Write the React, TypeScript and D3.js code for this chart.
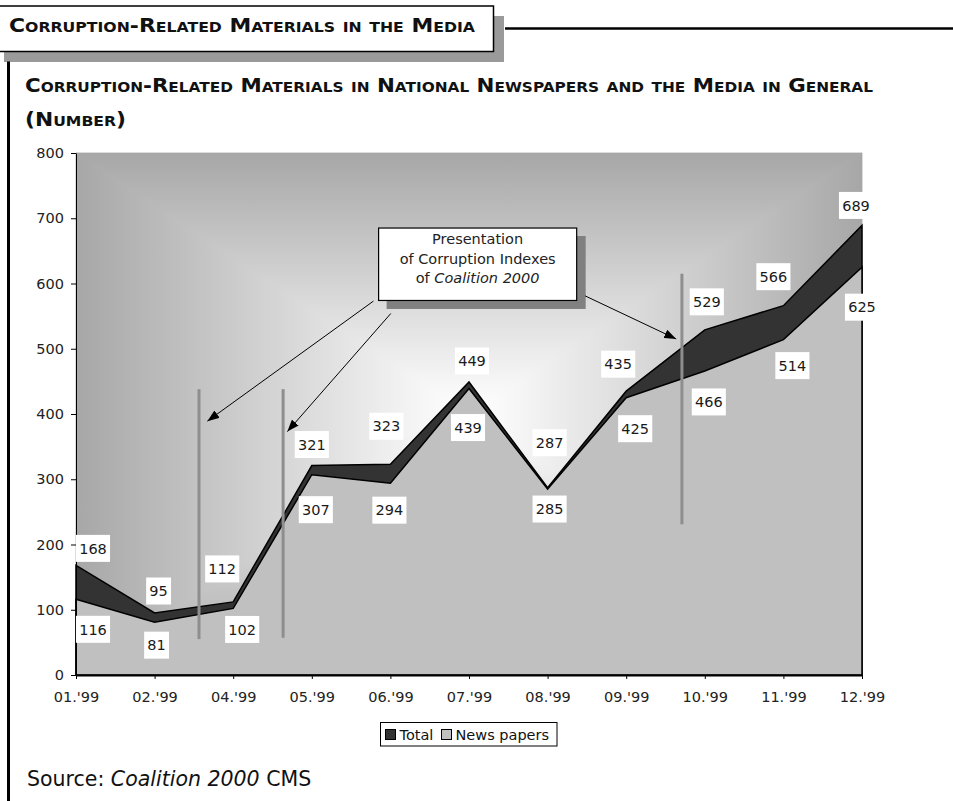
import React, { useEffect, useRef } from 'react';
import * as d3 from 'd3';

// ---------- data ----------
const months = ["01.'99", "02.'99", "04.'99", "05.'99", "06.'99", "07.'99", "08.'99", "09.'99", "10.'99", "11.'99", "12.'99"];
const totalValues = [168, 95, 112, 321, 323, 449, 287, 435, 529, 566, 689];
const newsValues = [116, 81, 102, 307, 294, 439, 285, 425, 466, 514, 625];
const yTicks = [0, 100, 200, 300, 400, 500, 600, 700, 800];
const seriesNames = ['Total', 'News papers'];

// label offsets (pixels) relative to the data point
const totalLabelOffsets = [[17, -17], [4, -22], [-11, -33], [0, -21], [-4, -38], [3, -21], [2, -45], [-8, -27], [2, -28], [-10, -29], [-6, -20]];
const newsLabelOffsets = [[17, 30], [2, 23], [9, 21], [4, 35], [-1, 27], [-1, 39], [2, 20], [9, 31], [4, 31], [9, 26], [0, 40]];

// annotation geometry in data space: [category index (fractional), value]
const markerBars = [
  { i: 1.565, v0: 55, v1: 438 },
  { i: 2.635, v0: 57, v1: 438 },
  { i: 7.709, v0: 231, v1: 615 },
];
const noteBox = { i0: 3.85, i1: 6.37, v0: 574, v1: 685 };
const noteLines = ['Presentation', 'of Corruption Indexes', 'of '];
const arrows = [
  { from: [3.784, 573], to: [1.671, 389] },
  { from: [4.005, 554], to: [2.689, 373] },
  { from: [6.478, 581], to: [7.636, 515] },
];

const FONT = "'DejaVu Sans', 'Open Sans', sans-serif";

function capsRuns(s: string, big: number, small: number) {
  const out: { t: string; size: number }[] = [];
  for (const ch of s) {
    const lower = ch !== ch.toUpperCase();
    const size = lower ? small : big;
    const t = ch.toUpperCase();
    const last = out[out.length - 1];
    if (last && last.size === size) last.t += t;
    else out.push({ t, size });
  }
  return out;
}

export default function App() {
  const ref = useRef<SVGSVGElement>(null);

  useEffect(() => {
    const svg = d3.select(ref.current);
    svg.selectAll('*').remove();

    const W = 953, H = 801;
    const left = 76, right = 862, top = 153, bottom = 675;

    const x = d3.scalePoint<string>().domain(months).range([left, right]).padding(0);
    const xi = d3.scaleLinear().domain([0, months.length - 1]).range([left, right]);
    const y = d3.scaleLinear().domain([0, 800]).range([bottom, top]);

    const defs = svg.append('defs');
    const cx = (left + right) / 2, cy = (top + bottom) / 2;
    const mkGrad = (id: string, x2: number, y2: number) => {
      const g = defs.append('linearGradient').attr('id', id)
        .attr('gradientUnits', 'userSpaceOnUse')
        .attr('x1', cx).attr('y1', cy).attr('x2', x2).attr('y2', y2);
      g.append('stop').attr('offset', 0).attr('stop-color', '#ffffff');
      g.append('stop').attr('offset', 0.12).attr('stop-color', '#f6f6f6');
      g.append('stop').attr('offset', 1).attr('stop-color', '#a7a7a7');
    };
    mkGrad('gTop', cx, top);
    mkGrad('gBot', cx, bottom);
    mkGrad('gLeft', left, cy);
    mkGrad('gRight', right, cy);

    defs.append('marker').attr('id', 'arrowHead')
      .attr('markerUnits', 'userSpaceOnUse')
      .attr('markerWidth', 12).attr('markerHeight', 9)
      .attr('refX', 12).attr('refY', 4.5).attr('orient', 'auto')
      .append('path').attr('d', 'M0,0 L12,4.5 L0,9 Z').attr('fill', '#000');

    // ---------- header ----------
    svg.append('rect').attr('x', 4).attr('y', 16).attr('width', 500).attr('height', 46).attr('fill', '#9a9a9a');
    svg.append('rect').attr('x', -2).attr('y', 6).attr('width', 495.5).attr('height', 45.5)
      .attr('fill', '#fff').attr('stroke', '#000').attr('stroke-width', 1.5);
    svg.append('line').attr('x1', 505).attr('x2', W).attr('y1', 28.5).attr('y2', 28.5)
      .attr('stroke', '#000').attr('stroke-width', 2.5);
    svg.append('line').attr('x1', 8.5).attr('x2', 8.5).attr('y1', 61.5).attr('y2', H)
      .attr('stroke', '#000').attr('stroke-width', 3);

    const capsText = (txt: string, xx: number, yy: number, big: number, small: number, len?: number) => {
      const t = svg.append('text').attr('x', xx).attr('y', yy)
        .attr('font-family', FONT).attr('font-weight', 700).attr('fill', '#111');
      if (len) t.attr('textLength', len).attr('lengthAdjust', 'spacingAndGlyphs');
      t.selectAll('tspan').data(capsRuns(txt, big, small)).join('tspan')
        .attr('font-size', d => d.size).text(d => d.t);
    };
    capsText('Corruption-Related Materials in the Media', 9, 32, 19.5, 14, 466);
    capsText('Corruption-Related Materials in National Newspapers and the Media in General', 25, 92, 19.5, 14, 848);
    capsText('(Number)', 25, 126, 19.5, 14, 101);

    // ---------- plot background (rectangular "from center" gradient) ----------
    const bg = svg.append('g');
    bg.append('rect').attr('x', left).attr('y', top).attr('width', right - left).attr('height', bottom - top).attr('fill', '#c8c8c8');
    const tri = (pts: number[][], id: string) => bg.append('path')
      .attr('d', 'M' + pts.map(p => p.join(',')).join('L') + 'Z')
      .attr('fill', `url(#${id})`).attr('stroke', `url(#${id})`).attr('stroke-width', 0.8);
    tri([[left, top], [right, top], [cx, cy]], 'gTop');
    tri([[left, bottom], [right, bottom], [cx, cy]], 'gBot');
    tri([[left, top], [left, bottom], [cx, cy]], 'gLeft');
    tri([[right, top], [right, bottom], [cx, cy]], 'gRight');

    // ---------- areas ----------
    const area = d3.area<number>()
      .x((_, i) => x(months[i]) as number)
      .y0(y(0))
      .y1(d => y(d));
    svg.append('path').datum(totalValues).attr('d', area)
      .attr('fill', '#333333').attr('stroke', '#000').attr('stroke-width', 1.5).attr('stroke-linejoin', 'miter');
    svg.append('path').datum(newsValues).attr('d', area)
      .attr('fill', '#c0c0c0').attr('stroke', '#000').attr('stroke-width', 1.5).attr('stroke-linejoin', 'miter');

    // ---------- axes ----------
    const yAxis = svg.append('g').attr('transform', `translate(${left},0)`)
      .call(d3.axisLeft(y).tickValues(yTicks).tickSize(5).tickSizeOuter(0).tickPadding(7));
    yAxis.select('.domain').attr('stroke', '#000').attr('stroke-width', 1);
    yAxis.selectAll('.tick line').attr('stroke', '#000');
    yAxis.selectAll('.tick text').attr('font-family', FONT).attr('font-size', 14.5).attr('fill', '#222');

    const xAxis = svg.append('g').attr('transform', `translate(0,${bottom})`)
      .call(d3.axisBottom(x).tickSize(4).tickSizeOuter(0).tickPadding(13));
    xAxis.select('.domain').attr('stroke', '#000').attr('stroke-width', 2);
    xAxis.selectAll('.tick line').attr('stroke', '#000');
    xAxis.selectAll('.tick text').attr('font-family', FONT).attr('font-size', 14.5).attr('fill', '#222');

    // ---------- marker bars ----------
    svg.selectAll('line.mbar').data(markerBars).join('line').attr('class', 'mbar')
      .attr('x1', d => xi(d.i)).attr('x2', d => xi(d.i))
      .attr('y1', d => y(d.v0)).attr('y2', d => y(d.v1))
      .attr('stroke', '#8e8e8e').attr('stroke-width', 3);

    // ---------- data labels ----------
    const labelFont = 14.5;
    const drawLabels = (vals: number[], offs: number[][]) => {
      vals.forEach((v, i) => {
        const px = (x(months[i]) as number) + offs[i][0];
        const py = y(v) + offs[i][1];
        const txt = String(v);
        const w = txt.length * 9.2 + 6.5;
        const h = 27;
        svg.append('rect').attr('x', px - w / 2).attr('y', py - h / 2).attr('width', w).attr('height', h).attr('fill', '#fff');
        svg.append('text').attr('x', px).attr('y', py).attr('dy', '0.36em')
          .attr('text-anchor', 'middle').attr('font-family', FONT).attr('font-size', labelFont)
          .attr('fill', '#1a1a1a').text(txt);
      });
    };
    drawLabels(totalValues, totalLabelOffsets);
    drawLabels(newsValues, newsLabelOffsets);

    // ---------- annotation ----------
    const bx0 = xi(noteBox.i0), bx1 = xi(noteBox.i1), by0 = y(noteBox.v1), by1 = y(noteBox.v0);
    svg.append('rect').attr('x', bx0 + 8).attr('y', by0 + 8).attr('width', bx1 - bx0 + 1).attr('height', by1 - by0 + 0.5).attr('fill', '#808080');
    svg.append('rect').attr('x', bx0).attr('y', by0).attr('width', bx1 - bx0).attr('height', by1 - by0)
      .attr('fill', '#fff').attr('stroke', '#000').attr('stroke-width', 1.2);
    const tcx = (bx0 + bx1) / 2;
    const baselines = [by0 + 16, by0 + 36, by0 + 54.5];
    noteLines.forEach((ln, k) => {
      const t = svg.append('text').attr('x', tcx).attr('y', baselines[k]).attr('text-anchor', 'middle')
        .attr('font-family', FONT).attr('font-size', 14.5).attr('fill', '#222');
      t.append('tspan').text(ln);
      if (k === 2) t.append('tspan').attr('font-style', 'italic').text('Coalition 2000');
    });

    svg.selectAll('line.arrow').data(arrows).join('line').attr('class', 'arrow')
      .attr('x1', d => xi(d.from[0])).attr('y1', d => y(d.from[1]))
      .attr('x2', d => xi(d.to[0])).attr('y2', d => y(d.to[1]))
      .attr('stroke', '#000').attr('stroke-width', 1).attr('marker-end', 'url(#arrowHead)');

    // ---------- legend ----------
    const lg = svg.append('g');
    lg.append('rect').attr('x', 380.5).attr('y', 722.5).attr('width', 176.5).attr('height', 23.5)
      .attr('fill', '#fff').attr('stroke', '#000').attr('stroke-width', 1);
    const legendItems = [
      { name: seriesNames[0], fill: '#333333', sx: 385.5, tx: 399.5 },
      { name: seriesNames[1], fill: '#c0c0c0', sx: 441.5, tx: 455.5 },
    ];
    legendItems.forEach(it => {
      lg.append('rect').attr('x', it.sx).attr('y', 729.5).attr('width', 10).attr('height', 10)
        .attr('fill', it.fill).attr('stroke', '#000').attr('stroke-width', 1);
      lg.append('text').attr('x', it.tx).attr('y', 740).attr('font-family', FONT).attr('font-size', 14.5)
        .attr('fill', '#111').text(it.name);
    });

    // ---------- source ----------
    const src = svg.append('text').attr('x', 27).attr('y', 786).attr('font-family', FONT).attr('font-size', 20.5).attr('fill', '#111');
    src.append('tspan').text('Source: ');
    src.append('tspan').attr('font-style', 'italic').text('Coalition 2000');
    src.append('tspan').text(' CMS');
  }, []);

  return (
    <svg ref={ref} width={953} height={801}
      style={{ position: 'absolute', left: 0, top: 0, display: 'block', background: '#fff' }} />
  );
}
